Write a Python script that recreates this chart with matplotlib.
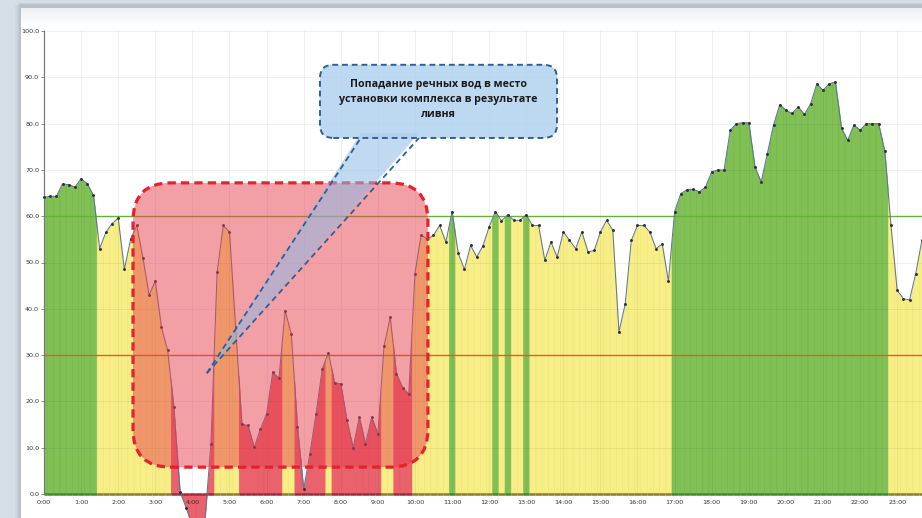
import numpy as np
import matplotlib.pyplot as plt
from matplotlib.patches import FancyBboxPatch, Polygon, Rectangle

# readings every 10 minutes, 0:00 .. 23:40
values = [
    64.1, 64.3, 64.3, 67.0, 66.8, 66.3,   # 0:00
    68.1, 67.0, 64.5, 53.0, 56.5, 58.4,   # 1:00
    59.6, 48.5, 55.0, 58.0, 51.0, 43.0,   # 2:00
    46.0, 36.0, 31.0, 18.7, 0.5, -3.0,    # 3:00
    -7.0, -8.5, -6.0, 10.8, 48.0, 58.0,   # 4:00
    56.6, 36.0, 15.1, 14.8, 10.1, 14.0,   # 5:00
    17.3, 26.3, 25.0, 39.6, 34.6, 14.4,   # 6:00
    1.0, 8.7, 17.3, 27.0, 30.5, 24.0,     # 7:00
    23.8, 15.9, 10.0, 16.6, 10.8, 16.6,   # 8:00
    13.0, 32.0, 38.2, 26.0, 23.0, 21.6,   # 9:00
    47.6, 56.0, 55.0, 55.9, 58.0, 54.4,   # 10:00
    61.0, 52.0, 48.5, 53.7, 51.2, 53.6,   # 11:00
    57.7, 61.0, 59.0, 60.3, 59.1, 59.1,   # 12:00
    60.3, 58.0, 58.0, 50.5, 54.4, 51.2,   # 13:00
    56.6, 54.8, 53.0, 56.6, 52.3, 52.6,   # 14:00
    56.6, 59.1, 57.0, 35.0, 41.0, 54.8,   # 15:00
    58.0, 58.0, 56.6, 53.0, 54.0, 46.0,   # 16:00
    61.0, 64.9, 65.7, 65.8, 65.3, 66.3,   # 17:00
    69.6, 70.0, 70.0, 78.6, 80.0, 80.2,   # 18:00
    80.2, 70.6, 67.4, 73.5, 79.7, 84.1,   # 19:00
    82.9, 82.2, 83.6, 82.0, 84.3, 88.6,   # 20:00
    87.2, 88.6, 89.0, 79.0, 76.4, 79.7,   # 21:00
    78.6, 80.0, 80.0, 80.0, 74.0, 58.0,   # 22:00
    44.0, 42.2, 41.9, 47.6, 54.8,         # 23:00
]
hour_labels = [f"{h}:00" for h in range(24)]
low_level = 30
high_level = 60
callout_text = ("Попадание речных вод в место\n"
                "установки комплекса в результате\n"
                "ливня")

W, H = 922, 518
fig = plt.figure(figsize=(W / 100, H / 100), dpi=100)
fig.patch.set_facecolor('#d5dde6')

# white card behind the chart, soft shadow on the left, faint gradient on top
for i, a in enumerate([0.05, 0.08, 0.12]):
    fig.patches.append(Rectangle(((15 + 2 * i) / W, 0), 1, (H - 5 + i) / H,
                                 transform=fig.transFigure, facecolor='#5a6a7a',
                                 alpha=a, edgecolor='none', zorder=-12))
fig.patches.append(Rectangle((21 / W, 0), 1, (H - 8) / H, transform=fig.transFigure,
                             facecolor='white', edgecolor='none', zorder=-10))
for k in range(8):
    fig.patches.append(Rectangle((21 / W, (H - 10 - 2 * k) / H), 1, 2 / H,
                                 transform=fig.transFigure, facecolor='#dfe3e7',
                                 alpha=0.5 * (1 - k / 8), edgecolor='none', zorder=-9))

ax = fig.add_axes([44 / W, 24 / H, (W - 44) / W, 463 / H])
ax.set_facecolor('none')

t = np.arange(len(values)) / 6.0
v = np.array(values)
xmax = 23.67
ax.set_xlim(0, xmax)
ax.set_ylim(0, 100)

fill = np.where(v >= high_level, '#80c055', np.where(v >= low_level, '#f8ee86', '#e9626c'))
edge = np.where(v >= high_level, '#6fb044', np.where(v >= low_level, '#efe27a', '#df5662'))
base = np.where(v >= high_level, '#3b8d2c', np.where(v >= low_level, '#8a7d2a', '#9a2d3a'))

# area under the curve, coloured by the level of each reading
w = 1 / 6.0
for i in range(len(t)):
    xs = np.array([max(t[i] - w / 2, 0), t[i], t[i] + w / 2])
    ys = np.interp(xs, t, v)
    pc = ax.fill_between(xs, 0, ys, facecolor=fill[i], edgecolor=edge[i],
                         linewidth=0.35, zorder=1)
    if ys.min() < 0:
        pc.set_facecolor('#e9626c')
        pc.set_edgecolor('#df5662')
        pc.set_clip_on(False)
ax.hlines(np.zeros_like(t), np.maximum(t - w / 2, 0), t + w / 2, colors=base,
          linewidth=1.8, zorder=2, clip_on=False)

ax.axhline(high_level, color='#6cbf3a', lw=1.0, zorder=2)
ax.axhline(low_level, color='#e8652a', lw=1.0, zorder=2)

ax.plot(t, v, color='#587494', lw=0.7, zorder=4, clip_on=False)
ax.plot(t, v, 'o', color='#2e2e3a', ms=1.1, zorder=5, clip_on=False)

ax.set_xticks(range(24))
ax.set_xticklabels(hour_labels)
ax.set_yticks(range(0, 101, 10))
ax.set_yticklabels([f"{y:.1f}" for y in range(0, 101, 10)])
ax.tick_params(axis='x', length=0, pad=4, labelsize=4.6, colors='#333333')
ax.tick_params(axis='y', length=2, width=0.6, pad=1.5, labelsize=4.6,
               colors='#777777', labelcolor='#333333')
ax.grid(True, color='#000000', alpha=0.07, lw=0.6)
ax.set_axisbelow(False)
for s in ['top', 'right', 'bottom']:
    ax.spines[s].set_visible(False)
ax.spines['left'].set_color('#808080')
ax.spines['left'].set_linewidth(0.9)

# pixel aspect of the data units, to keep rounded corners round
pos = ax.get_position()
aspect = (pos.width * W / xmax) / (pos.height * H / 100)

# highlighted period (rounded red box)
x0, x1, y0, y1 = 2.40, 10.35, 5.8, 67.2
box = FancyBboxPatch((x0, y0), x1 - x0, y1 - y0,
                     boxstyle='round,pad=0,rounding_size=1.02', mutation_aspect=aspect,
                     facecolor='#e8404f', alpha=0.5, edgecolor='none', zorder=6)
ax.add_patch(box)
box_edge = FancyBboxPatch((x0, y0), x1 - x0, y1 - y0,
                          boxstyle='round,pad=0,rounding_size=1.02', mutation_aspect=aspect,
                          facecolor='none', edgecolor='#e5212b', lw=2.3,
                          linestyle=(0, (2.6, 1.6)), zorder=7)
ax.add_patch(box_edge)

# callout
tip = (4.39, 26.1)
b_left, b_right, b_y = 8.54, 10.11, 76.9
tail = Polygon([tip, (b_left, b_y + 1), (b_right, b_y + 1)], closed=True,
               facecolor='#8fbce6', alpha=0.55, edgecolor='none', zorder=8)
ax.add_patch(tail)
for bx in (b_left, b_right):
    ax.plot([tip[0], bx], [tip[1], b_y], color='#2f5f95', lw=1.3,
            linestyle=(0, (3.2, 2.2)), zorder=9, clip_on=False)

cx0, cx1, cy0, cy1 = 7.44, 13.83, 76.9, 92.7
call = FancyBboxPatch((cx0, cy0), cx1 - cx0, cy1 - cy0,
                      boxstyle='round,pad=0,rounding_size=0.36', mutation_aspect=aspect,
                      facecolor='#add0ee', alpha=0.8, edgecolor='none', zorder=10)
ax.add_patch(call)
call_edge = FancyBboxPatch((cx0, cy0), cx1 - cx0, cy1 - cy0,
                           boxstyle='round,pad=0,rounding_size=0.36', mutation_aspect=aspect,
                           facecolor='none', edgecolor='#2f5f95', lw=1.4,
                           linestyle=(0, (3.0, 2.0)), zorder=11)
ax.add_patch(call_edge)
ax.text((cx0 + cx1) / 2, 85.3, callout_text, ha='center', va='center',
        fontsize=7.7, fontweight='bold', color='#1a1a1a', linespacing=1.5,
        family=['Open Sans', 'DejaVu Sans'], zorder=12)

fig.savefig('out.png', dpi=100, facecolor=fig.get_facecolor())
